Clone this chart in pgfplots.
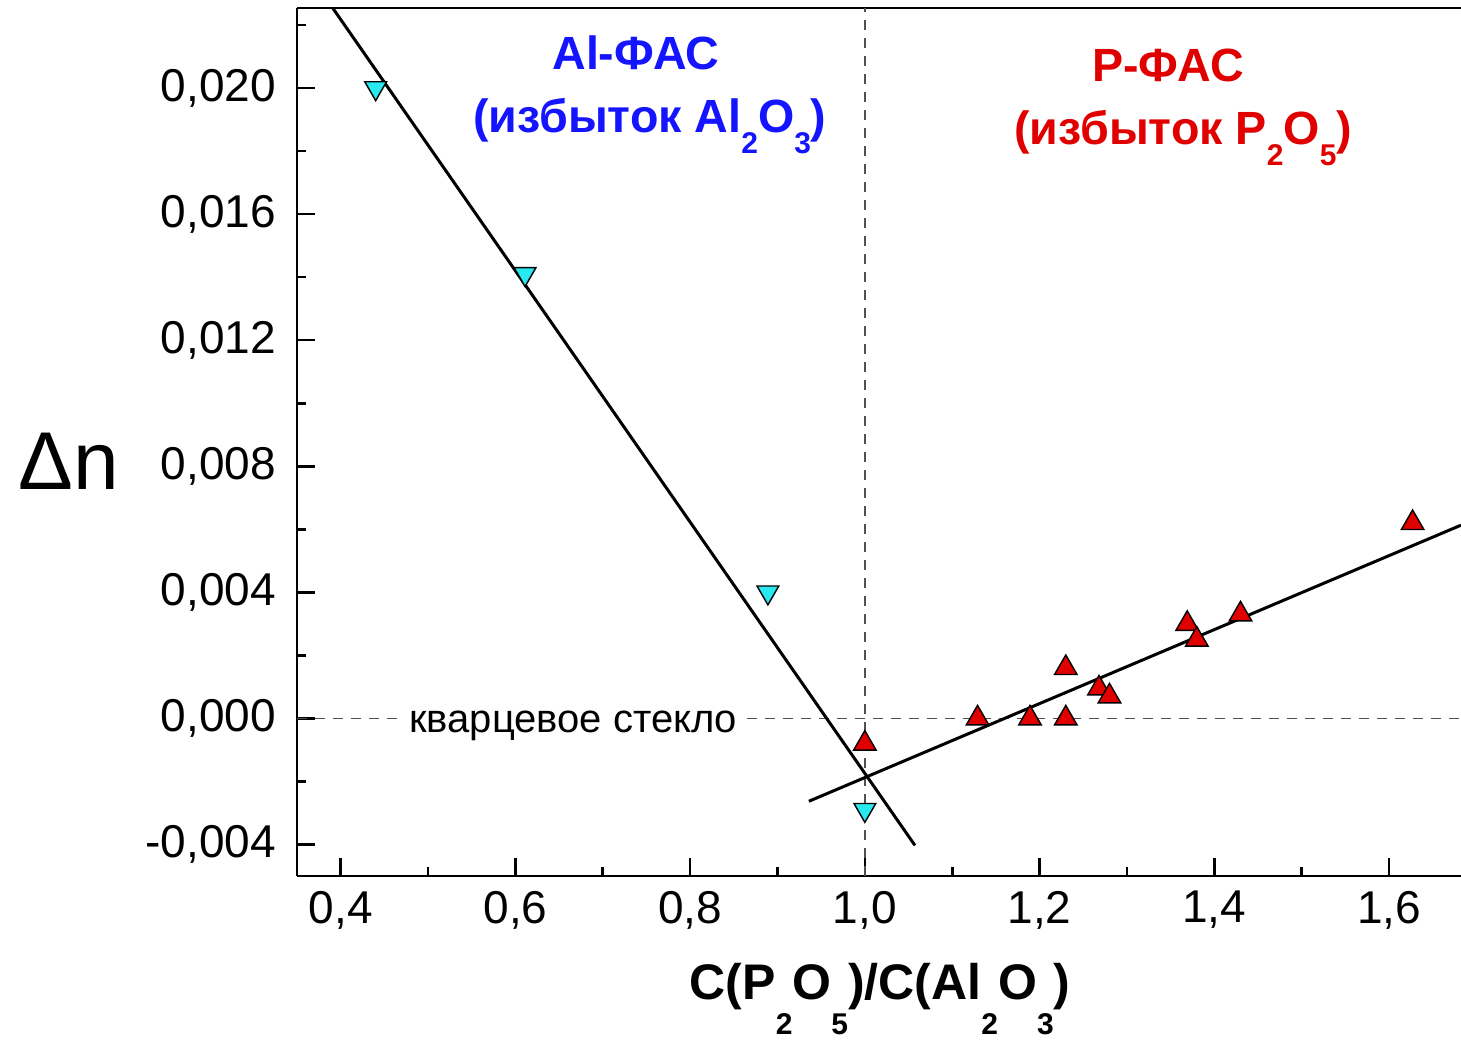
\documentclass[border=0pt]{standalone}
\usepackage{fontspec}
\setmainfont{Liberation Sans}
\usepackage{pgfplots}
\pgfplotsset{compat=1.18}

\definecolor{mycyan}{RGB}{40,232,240}
\definecolor{myred}{RGB}{225,0,0}
\definecolor{myblue}{RGB}{20,20,255}
\definecolor{dashgray}{RGB}{80,80,80}

% #1 = lowering (em), #2 = size (pt), #3 = digit
\newcommand{\sub}[3]{\raisebox{-#1em}{\fontsize{#2}{#2}\selectfont #3}}

\begin{document}
\begin{tikzpicture}
\begin{axis}[
  scale only axis, width=582pt, height=434pt,
  xmin=0.35, xmax=1.6824, ymin=-0.005, ymax=0.02254,
  axis x line*=box, axis y line*=left,
  axis line style={-, line width=1.4pt},
  xtick pos=left, ytick pos=left,
  tick align=inside,
  major tick length=9pt, minor tick length=4.5pt,
  every tick/.style={black, line width=1.3pt},
  xtick={0.4,0.6,0.8,1.0,1.2,1.4,1.6},
  minor xtick={0.5,0.7,0.9,1.1,1.3,1.5},
  ytick={-0.004,0,0.004,0.008,0.012,0.016,0.020},
  minor ytick={-0.002,0.002,0.006,0.010,0.014,0.018,0.022},
  scaled y ticks=false, scaled x ticks=false,
  /pgf/number format/assume math mode=true,
  yticklabel style={/pgf/number format/fixed, /pgf/number format/fixed zerofill, /pgf/number format/precision=3, /pgf/number format/use comma, xshift=-7pt},
  xticklabel style={/pgf/number format/fixed, /pgf/number format/fixed zerofill, /pgf/number format/precision=1, /pgf/number format/use comma, yshift=-4pt},
  tick label style={font=\fontsize{23}{27}\selectfont},
  every axis x label/.style={at={(axis description cs:0.5009,-0.1429)}, anchor=base},
  every axis y label/.style={at={(axis description cs:-0.1959,0.4447)}, anchor=base},
  xlabel={\bfseries\fontsize{25}{30}\selectfont C(P\sub{0.7}{15}{2}O\sub{0.7}{15}{5})/C(Al\sub{0.7}{15}{2}O\sub{0.7}{15}{3})},
  ylabel={\fontsize{41}{45}\selectfont Δn},
  clip=false,
]
% reference lines
\addplot[dashgray, line width=0.8pt, dash pattern=on 5pt off 4pt] coordinates {(1.0,-0.005) (1.0,0.02254)};
\addplot[dashgray, line width=0.8pt, dash pattern=on 5pt off 4pt] coordinates {(0.35,0) (1.6824,0)};
\node[fill=white, inner sep=3pt, anchor=base, font=\fontsize{20}{22}\selectfont] at (axis cs:0.6662,-0.00044) {кварцевое стекло};
% fit lines
\addplot[black, line width=1.5pt] coordinates {(0.3908,0.02254) (1.0573,-0.00403)};
\addplot[black, line width=1.5pt] coordinates {(0.9359,-0.00263) (1.6824,0.00613)};
% Al-excess glasses
\addplot[only marks, mark=triangle*, mark size=6.3pt,
  mark options={fill=mycyan, draw=black, line width=0.7pt, rotate=180}]
  coordinates {(0.44,0.0200) (0.611,0.0141) (0.889,0.0040) (1.0,-0.0029)};
% P-excess glasses
\addplot[only marks, mark=triangle*, mark size=6.5pt,
  mark options={fill=myred, draw=black, line width=0.7pt}]
  coordinates {(1.0,-0.0008) (1.129,0.0000) (1.189,0.0000) (1.230,0.0000)
    (1.230,0.0016) (1.268,0.00095) (1.280,0.0007) (1.369,0.0030)
    (1.380,0.0025) (1.430,0.0033) (1.627,0.0062)};
% annotations
\node[anchor=base, text=myblue, font=\bfseries\fontsize{23.3}{27}\selectfont] at (axis cs:0.7378,0.0206) {Al-ФАС};
\node[anchor=base, text=myblue, font=\bfseries\fontsize{23.3}{27}\selectfont] at (axis cs:0.7538,0.0186) {(избыток Al\sub{0.45}{15}{2}O\sub{0.45}{15}{3})};
\node[anchor=base, text=myred, font=\bfseries\fontsize{23.3}{27}\selectfont] at (axis cs:1.347,0.0202) {P-ФАС};
\node[anchor=base, text=myred, font=\bfseries\fontsize{23.3}{27}\selectfont] at (axis cs:1.3642,0.0182) {(избыток P\sub{0.45}{15}{2}O\sub{0.45}{15}{5})};
% bounding box helpers
\coordinate (bbsw) at (rel axis cs:-0.2552,-0.1889);
\coordinate (bbne) at (rel axis cs:1.0,1.00922);
\end{axis}
\pgfresetboundingbox
\path[use as bounding box] (bbsw) rectangle (bbne);
\end{tikzpicture}
\end{document}
